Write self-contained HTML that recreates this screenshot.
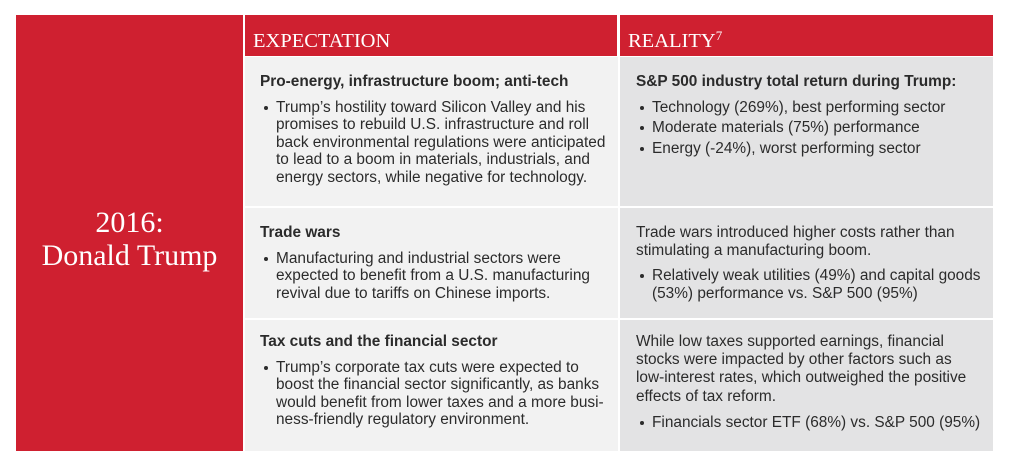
<!DOCTYPE html>
<html><head><meta charset="utf-8"><style>
*{margin:0;padding:0;box-sizing:border-box}
body{width:1021px;height:470px;background:#fff;position:relative;font-family:"Liberation Sans",sans-serif;color:#2b2b2b;overflow:hidden}
.a{position:absolute}
.red{background:#cf2030}
.hd{color:#fff;font-family:"Liberation Serif",serif;font-size:20.5px;line-height:20px;padding:16px 0 0 8px}
.c1{background:#f2f2f2}
.c2{background:#e3e3e4}
.txt{font-size:15.4px;line-height:17.6px;white-space:nowrap}
.txt b{display:block;margin-bottom:8px}
ul{list-style:none}
li{position:relative;padding-left:16px;margin-bottom:3px}
li:before{content:"";position:absolute;left:4px;top:7px;width:4px;height:4px;border-radius:50%;background:#2b2b2b}
p{margin-bottom:8px}
</style></head><body>
<div class="a red" style="left:16px;top:15px;width:227px;height:436px"></div>
<div class="a" style="left:16px;top:206px;width:227px;text-align:center;color:#fff;font-family:'Liberation Serif',serif;font-size:30px;line-height:33px">2016:<br>Donald Trump</div>
<div class="a red hd" style="left:245px;top:15px;width:372px;height:41px">EXPECTATION</div>
<div class="a red hd" style="left:620px;top:15px;width:373px;height:41px">REALITY<span style="font-size:13px;position:relative;top:-7px">7</span></div>
<div class="a c1" style="left:245px;top:57px;width:373px;height:149px"></div>
<div class="a c2" style="left:620px;top:57px;width:373px;height:149px"></div>
<div class="a c1" style="left:245px;top:208px;width:373px;height:110px"></div>
<div class="a c2" style="left:620px;top:208px;width:373px;height:110px"></div>
<div class="a c1" style="left:245px;top:320px;width:373px;height:131px"></div>
<div class="a c2" style="left:620px;top:320px;width:373px;height:131px"></div>

<div class="a txt" style="left:260px;top:73px"><b>Pro-energy, infrastructure boom; anti-tech</b>
<ul><li>Trump’s hostility toward Silicon Valley and his<br>promises to rebuild U.S. infrastructure and roll<br>back environmental regulations were anticipated<br>to lead to a boom in materials, industrials, and<br>energy sectors, while negative for technology.</li></ul></div>
<div class="a txt" style="left:636px;top:73px"><b>S&amp;P 500 industry total return during Trump:</b>
<ul><li>Technology (269%), best performing sector</li><li>Moderate materials (75%) performance</li><li>Energy (-24%), worst performing sector</li></ul></div>

<div class="a txt" style="left:260px;top:224px"><b>Trade wars</b>
<ul><li>Manufacturing and industrial sectors were<br>expected to benefit from a U.S. manufacturing<br>revival due to tariffs on Chinese imports.</li></ul></div>
<div class="a txt" style="left:636px;top:224px"><p>Trade wars introduced higher costs rather than<br>stimulating a manufacturing boom.</p>
<ul><li>Relatively weak utilities (49%) and capital goods<br>(53%) performance vs. S&amp;P 500 (95%)</li></ul></div>

<div class="a txt" style="left:260px;top:333px"><b>Tax cuts and the financial sector</b>
<ul><li>Trump’s corporate tax cuts were expected to<br>boost the financial sector significantly, as banks<br>would benefit from lower taxes and a more busi-<br>ness-friendly regulatory environment.</li></ul></div>
<div class="a txt" style="left:636px;top:333px;line-height:18.2px"><p>While low taxes supported earnings, financial<br>stocks were impacted by other factors such as<br>low-interest rates, which outweighed the positive<br>effects of tax reform.</p>
<ul><li>Financials sector ETF (68%) vs. S&amp;P 500 (95%)</li></ul></div>
</body></html>
